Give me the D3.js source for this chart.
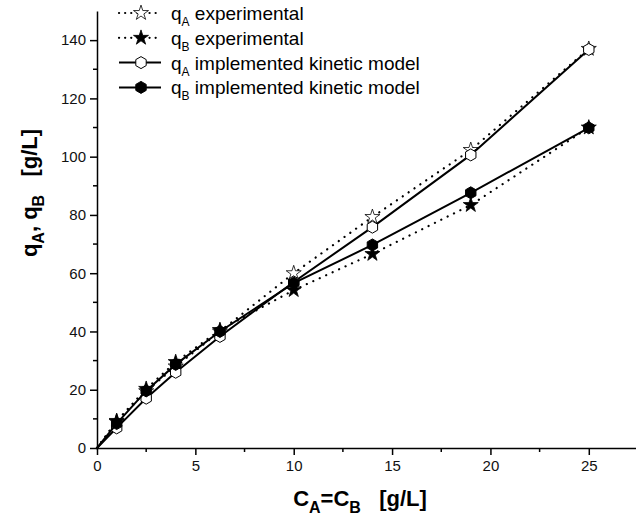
<!DOCTYPE html>
<html>
<head>
<meta charset="utf-8">
<script src="https://cdn.jsdelivr.net/npm/d3@7"></script>
<style>
  body { margin: 0; background: #fff; }
  text { font-family: "Liberation Sans", Arial, sans-serif; }
</style>
</head>
<body>
<div id="chart"></div>
<script>
// Concentrations (x) and loadings
const conc = [0, 1, 2.5, 4, 6.25, 10, 14, 19, 25];
const qAexp = [0, 9, 19.5, 28, 40, 60, 79.3, 102.3, 137];
const qBexp = [0, 9.3, 20.3, 29.5, 40.5, 54.2, 66.6, 83.4, 110];
const qAmod = [0, 6.9, 17.1, 26, 38.3, 57, 75.8, 100.6, 136.8];
const qBmod = [0, 8.4, 19.6, 28.7, 40, 56.6, 69.7, 87.6, 109.9];

const xTicks = [0, 5, 10, 15, 20, 25];
const yTicks = [0, 20, 40, 60, 80, 100, 120, 140];

const W = 636, H = 515;
const margin = { top: 11, right: 0, bottom: 67, left: 97 };

const svg = d3.select("#chart").append("svg")
    .attr("width", W).attr("height", H);

const x = d3.scaleLinear().domain([0, 27.4]).range([margin.left, W - margin.right]);
const y = d3.scaleLinear().domain([0, 150]).range([H - margin.bottom, margin.top]);

// Axes
const xAxis = svg.append("g")
    .attr("transform", `translate(0,${y(0)})`)
    .call(d3.axisBottom(x).tickValues(xTicks).tickSize(7).tickPadding(5).tickSizeOuter(0));
xAxis.append("g").selectAll("line")
    .data([2.5, 7.5, 12.5, 17.5, 22.5]).enter().append("line")
    .attr("x1", d => x(d)).attr("x2", d => x(d)).attr("y1", 0).attr("y2", 4)
    .attr("stroke", "#000").attr("stroke-width", 1.5);

const yAxis = svg.append("g")
    .attr("transform", `translate(${x(0)},0)`)
    .call(d3.axisLeft(y).tickValues(yTicks).tickSize(7).tickPadding(4).tickSizeOuter(0));
yAxis.append("g").selectAll("line")
    .data([10, 30, 50, 70, 90, 110, 130]).enter().append("line")
    .attr("y1", d => y(d)).attr("y2", d => y(d)).attr("x1", 0).attr("x2", -4)
    .attr("stroke", "#000").attr("stroke-width", 1.5);

[xAxis, yAxis].forEach(a => {
    a.select(".domain").attr("stroke-width", 1.5);
    a.selectAll(".tick line").attr("stroke-width", 1.5);
    a.selectAll(".tick text").style("font-size", "15px").attr("fill", "#111");
});

// Axis titles
svg.append("text")
    .attr("x", 360).attr("y", 506)
    .attr("text-anchor", "middle")
    .style("font-size", "22px").style("font-weight", "bold")
    .html('C<tspan dy="7" font-size="16">A</tspan><tspan dy="-7">=C</tspan><tspan dy="7" font-size="16">B</tspan><tspan dy="-7">&#160;&#160;&#160;[g/L]</tspan>');

svg.append("text")
    .attr("transform", "translate(37,193) rotate(-90)")
    .attr("text-anchor", "middle")
    .style("font-size", "22px").style("font-weight", "bold")
    .html('q<tspan dy="7" font-size="16">A</tspan><tspan dy="-7">, q</tspan><tspan dy="7" font-size="16">B</tspan><tspan dy="-7">&#160;&#160;&#160;[g/L]</tspan>');

// Symbols
const hexPath = r => {
    const pts = d3.range(6).map(i => {
        const a = Math.PI / 6 + i * Math.PI / 3;
        return [r * Math.cos(a), r * Math.sin(a)];
    });
    return "M" + pts.join("L") + "Z";
};
const starPath = d3.symbol().type(d3.symbolStar).size(70)();

const series = [
    { vals: qAexp, dash: true, sym: "star", fill: "#fff", label: "A", text: " experimental" },
    { vals: qBexp, dash: true, sym: "star", fill: "#000", label: "B", text: " experimental" },
    { vals: qAmod, dash: false, sym: "hex", fill: "#fff", label: "A", text: " implemented kinetic model" },
    { vals: qBmod, dash: false, sym: "hex", fill: "#000", label: "B", text: " implemented kinetic model" }
];

const line = d3.line().x(d => x(d[0])).y(d => y(d[1]));

series.forEach(s => {
    const pts = conc.map((c, i) => [c, s.vals[i]]);
    svg.append("path")
        .datum(pts)
        .attr("d", line)
        .attr("fill", "none")
        .attr("stroke", "#000")
        .attr("stroke-width", s.dash ? 2.2 : 2)
        .attr("stroke-linecap", s.dash ? "round" : "butt")
        .attr("stroke-dasharray", s.dash ? "0.1 7" : null);
    svg.append("g").selectAll("path")
        .data(pts.slice(1)).enter().append("path")
        .attr("transform", d => `translate(${x(d[0])},${y(d[1])})`)
        .attr("d", s.sym === "hex" ? hexPath(6) : starPath)
        .attr("fill", s.fill)
        .attr("stroke", "#000")
        .attr("stroke-width", s.sym === "hex" ? 1 : 0.8);
});

// Legend
const legend = svg.append("g").attr("transform", "translate(119,13)");
series.forEach((s, i) => {
    const g = legend.append("g").attr("transform", `translate(0,${i * 24.8})`);
    g.append("line")
        .attr("x1", 0).attr("x2", 42).attr("y1", 0).attr("y2", 0)
        .attr("stroke", "#000")
        .attr("stroke-width", s.dash ? 2.2 : 2)
        .attr("stroke-linecap", s.dash ? "round" : "butt")
        .attr("stroke-dasharray", s.dash ? "0.1 6" : null);
    g.append("path")
        .attr("transform", "translate(22,0)")
        .attr("d", s.sym === "hex" ? hexPath(6) : starPath)
        .attr("fill", s.fill).attr("stroke", "#000")
        .attr("stroke-width", s.sym === "hex" ? 1 : 0.8);
    g.append("text")
        .attr("x", 52).attr("y", 7)
        .style("font-size", "19px")
        .html(`q<tspan dy="6" font-size="12">${s.label}</tspan><tspan dy="-6">${s.text}</tspan>`);
});
</script>
</body>
</html>
